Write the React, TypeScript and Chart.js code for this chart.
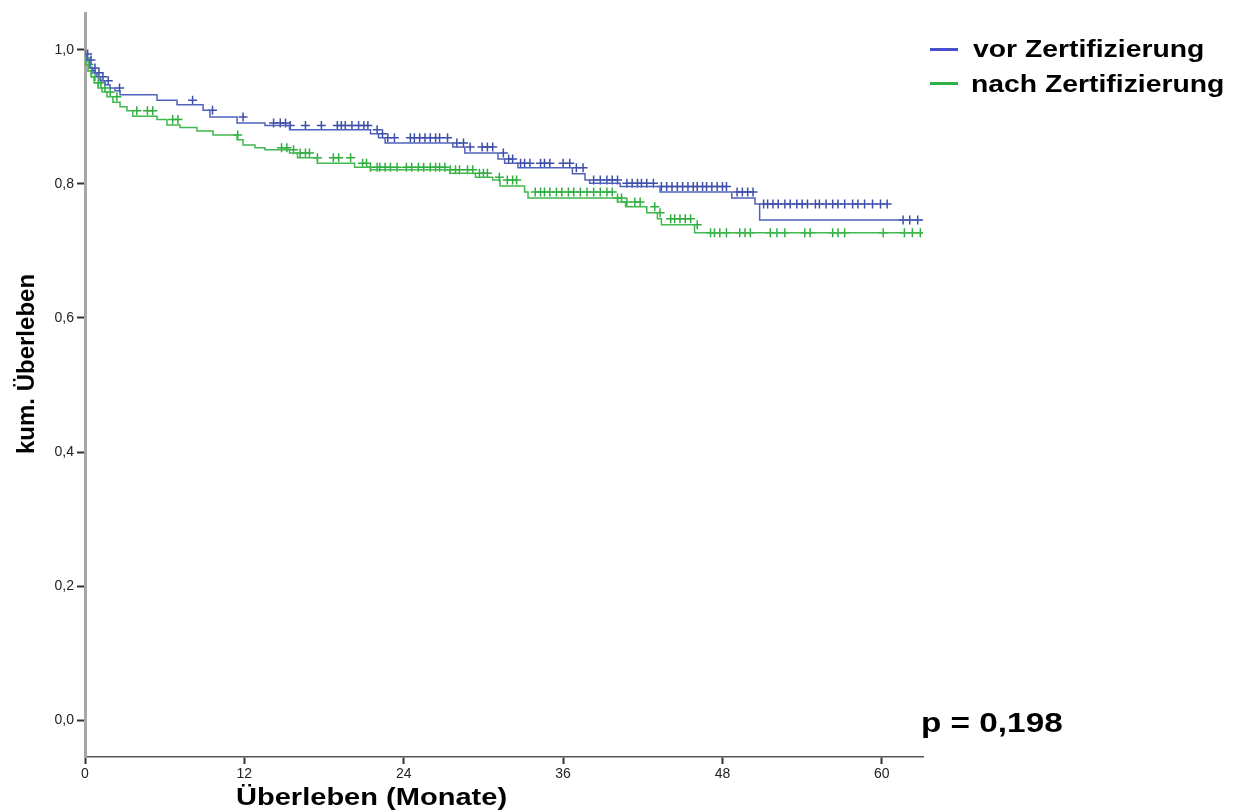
import React, { useEffect, useRef } from 'react';
import { Chart, registerables } from 'chart.js';

Chart.register(...registerables);

const groupLabels = ['vor Zertifizierung', 'nach Zertifizierung'];
const xTickValues = [0, 12, 24, 36, 48, 60];
const yTickValues = [0, 0.2, 0.4, 0.6, 0.8, 1.0];
const followUpEnd = 63.2;

const blueTimes = [0.15, 0.38, 0.6, 0.9, 1.13, 1.5, 1.88, 2.26, 2.64, 5.42, 6.93, 8.89, 9.41, 11.45, 13.55, 15.4, 21.5, 22.1, 22.6, 27.7, 28.6, 31.1, 31.6, 32.6, 36.7, 37.65, 38.0, 40.3, 43.3, 48.7, 50.45, 50.8, 61.0];
const blueSurv = [0.994, 0.985, 0.973, 0.966, 0.96, 0.954, 0.948, 0.943, 0.939, 0.933, 0.925, 0.918, 0.91, 0.9, 0.891, 0.887, 0.881, 0.875, 0.869, 0.861, 0.855, 0.846, 0.837, 0.831, 0.824, 0.815, 0.806, 0.801, 0.796, 0.788, 0.779, 0.77, 0.746];

const greenTimes = [0.08, 0.23, 0.45, 0.68, 0.98, 1.28, 1.66, 2.1, 2.64, 3.16, 3.6, 5.42, 6.17, 7.15, 8.43, 9.64, 11.45, 11.9, 12.8, 13.55, 15.4, 16.0, 17.5, 20.3, 21.5, 27.5, 29.4, 30.7, 31.25, 33.1, 33.36, 40.1, 40.7, 42.3, 43.1, 43.4, 45.9, 46.5];
const greenSurv = [0.988, 0.978, 0.969, 0.96, 0.951, 0.943, 0.937, 0.93, 0.922, 0.915, 0.909, 0.901, 0.896, 0.888, 0.884, 0.879, 0.873, 0.866, 0.858, 0.854, 0.851, 0.846, 0.839, 0.831, 0.825, 0.821, 0.816, 0.81, 0.806, 0.797, 0.788, 0.779, 0.773, 0.766, 0.757, 0.748, 0.739, 0.727];

const blueCensor = [0.2, 0.45, 0.75, 1.05, 1.35, 1.75, 2.6, 8.1, 9.6, 11.9, 14.2, 14.7, 15.1, 15.45, 16.6, 17.8, 19.0, 19.3, 19.6, 20.1, 20.6, 21.0, 21.3, 22.0, 22.4, 22.8, 23.3, 24.5, 24.8, 25.2, 25.6, 26.0, 26.4, 26.7, 27.3, 28.0, 28.5, 29.0, 29.9, 30.3, 30.7, 31.5, 31.9, 32.2, 32.8, 33.1, 33.5, 34.3, 34.6, 35.0, 36.0, 36.5, 37.0, 37.5, 38.3, 38.8, 39.3, 39.7, 40.1, 40.8, 41.2, 41.6, 41.9, 42.3, 42.8, 43.4, 43.8, 44.2, 44.6, 45.0, 45.4, 45.8, 46.1, 46.5, 46.8, 47.2, 47.6, 48.0, 48.3, 49.1, 49.5, 49.9, 50.3, 51.1, 51.4, 51.8, 52.2, 52.7, 53.1, 53.6, 54.0, 54.4, 55.0, 55.3, 55.8, 56.3, 56.7, 57.2, 57.8, 58.2, 58.7, 59.3, 59.9, 60.4, 61.6, 62.1, 62.7];
const greenCensor = [0.15, 0.3, 0.5, 0.75, 1.0, 1.2, 1.5, 1.9, 2.4, 3.9, 4.7, 5.1, 6.6, 7.0, 11.5, 14.8, 15.2, 15.7, 16.2, 16.6, 16.9, 17.5, 18.7, 19.1, 20.0, 20.9, 21.2, 21.5, 22.0, 22.2, 22.6, 23.0, 23.5, 24.2, 24.6, 25.1, 25.5, 26.0, 26.4, 26.7, 27.1, 27.5, 27.9, 28.2, 28.8, 29.2, 29.7, 30.0, 30.3, 31.2, 31.8, 32.2, 32.5, 33.9, 34.3, 34.6, 35.0, 35.5, 35.9, 36.4, 36.8, 37.3, 37.8, 38.3, 38.8, 39.3, 39.7, 40.1, 40.4, 40.8, 41.4, 41.8, 42.9, 43.3, 44.1, 44.4, 44.8, 45.2, 45.6, 46.1, 47.1, 47.4, 47.8, 48.3, 49.3, 49.7, 50.1, 51.6, 52.1, 52.7, 54.2, 54.6, 56.3, 56.7, 57.2, 60.1, 61.7, 62.3, 62.9];

const blueLine = '#5062bb';
const blueMark = '#3d4eaa';
const greenLine = '#40b84e';
const greenMark = '#2fae40';
const blueLegend = '#4650cc';
const greenLegend = '#2fb04a';

function stepPoints(times: number[], surv: number[]) {
  const pts = [{ x: 0, y: 1 }];
  times.forEach((t, i) => pts.push({ x: t, y: surv[i] }));
  pts.push({ x: followUpEnd, y: surv[surv.length - 1] });
  return pts;
}

function survAt(times: number[], surv: number[], t: number) {
  let s = 1;
  for (let i = 0; i < times.length; i++) {
    if (times[i] <= t) s = surv[i];
  }
  return s;
}

function censorPoints(times: number[], surv: number[], cens: number[]) {
  return cens.map((c) => ({ x: c, y: survAt(times, surv, c) }));
}

const fontFamily = '"Liberation Sans", Arial, sans-serif';

export default function App() {
  const canvasRef = useRef<HTMLCanvasElement | null>(null);

  useEffect(() => {
    if (!canvasRef.current) return;
    const chart = new Chart(canvasRef.current, {
      type: 'scatter',
      data: {
        datasets: [
          {
            label: groupLabels[0],
            data: stepPoints(blueTimes, blueSurv),
            showLine: true,
            stepped: 'after',
            borderColor: blueLine,
            borderWidth: 1.5,
            pointRadius: 0,
            fill: false,
          } as any,
          {
            label: groupLabels[1],
            data: stepPoints(greenTimes, greenSurv),
            showLine: true,
            stepped: 'after',
            borderColor: greenLine,
            borderWidth: 1.5,
            pointRadius: 0,
            fill: false,
          } as any,
          {
            label: groupLabels[0] + ' zensiert',
            data: censorPoints(blueTimes, blueSurv, blueCensor),
            pointStyle: 'cross',
            pointRadius: 4.5,
            borderWidth: 1.5,
            borderColor: blueMark,
            backgroundColor: blueMark,
          } as any,
          {
            label: groupLabels[1] + ' zensiert',
            data: censorPoints(greenTimes, greenSurv, greenCensor),
            pointStyle: 'cross',
            pointRadius: 4.5,
            borderWidth: 1.5,
            borderColor: greenMark,
            backgroundColor: greenMark,
          } as any,
        ],
      },
      options: {
        responsive: false,
        animation: false,
        devicePixelRatio: 1,
        layout: { padding: { left: 0, right: 321, top: 13, bottom: 0 } },
        plugins: { legend: { display: false }, tooltip: { enabled: false } },
        scales: {
          x: {
            type: 'linear',
            min: 0,
            max: 63.1,
            afterBuildTicks: (scale: any) => {
              scale.ticks = xTickValues.map((v) => ({ value: v }));
            },
            afterFit: (scale: any) => {
              scale.height = 53;
            },
            grid: {
              drawOnChartArea: false,
              drawTicks: true,
              tickLength: 7,
              tickColor: '#333',
              tickWidth: 2,
            },
            border: { display: true, color: '#555', width: 1.5 },
            ticks: {
              color: '#222',
              padding: 2,
              maxRotation: 0,
              font: { family: fontFamily, size: 14 },
              callback: (v: any) => String(v),
            },
          },
          y: {
            type: 'linear',
            min: -0.055,
            max: 1.055,
            afterBuildTicks: (scale: any) => {
              scale.ticks = yTickValues.map((v) => ({ value: v }));
            },
            afterFit: (scale: any) => {
              scale.width = 85;
            },
            grid: {
              drawOnChartArea: false,
              drawTicks: true,
              tickLength: 8,
              tickColor: '#333',
              tickWidth: 2,
            },
            border: { display: true, color: '#a6a6a6', width: 3 },
            ticks: {
              color: '#222',
              padding: 3,
              font: { family: fontFamily, size: 14 },
              callback: (v: any) => Number(v).toFixed(1).replace('.', ','),
            },
          },
        },
      } as any,
    });
    return () => chart.destroy();
  }, []);

  const textBase: React.CSSProperties = {
    position: 'absolute',
    fontFamily,
    fontWeight: 'bold',
    color: '#000',
    whiteSpace: 'nowrap',
    transformOrigin: 'left center',
  };

  return (
    <div style={{ position: 'absolute', left: 0, top: 0, width: 1244, height: 810, background: '#fff', overflow: 'hidden' }}>
      <canvas ref={canvasRef} width={1244} height={810} style={{ position: 'absolute', left: 0, top: 0, width: 1244, height: 810 }} />
      <div style={{ position: 'absolute', left: 930, top: 47.5, width: 28, height: 3, background: blueLegend }} />
      <div style={{ ...textBase, left: 973, top: 37, fontSize: 24, lineHeight: '24px', transform: 'scaleX(1.18)' }}>{groupLabels[0]}</div>
      <div style={{ position: 'absolute', left: 930, top: 82, width: 28, height: 3, background: greenLegend }} />
      <div style={{ ...textBase, left: 971, top: 72, fontSize: 24, lineHeight: '24px', transform: 'scaleX(1.18)' }}>{groupLabels[1]}</div>
      <div style={{ ...textBase, left: 921, top: 709, fontSize: 28, lineHeight: '28px', transform: 'scaleX(1.19)' }}>p = 0,198</div>
      <div style={{ ...textBase, left: 236, top: 785, fontSize: 24, lineHeight: '24px', transform: 'scaleX(1.21)' }}>Überleben (Monate)</div>
      <div
        style={{
          ...textBase,
          left: 26,
          top: 364,
          fontSize: 24,
          lineHeight: '24px',
          transformOrigin: 'center center',
          transform: 'translate(-50%, -50%) rotate(-90deg)',
        }}
      >
        kum. Überleben
      </div>
    </div>
  );
}
